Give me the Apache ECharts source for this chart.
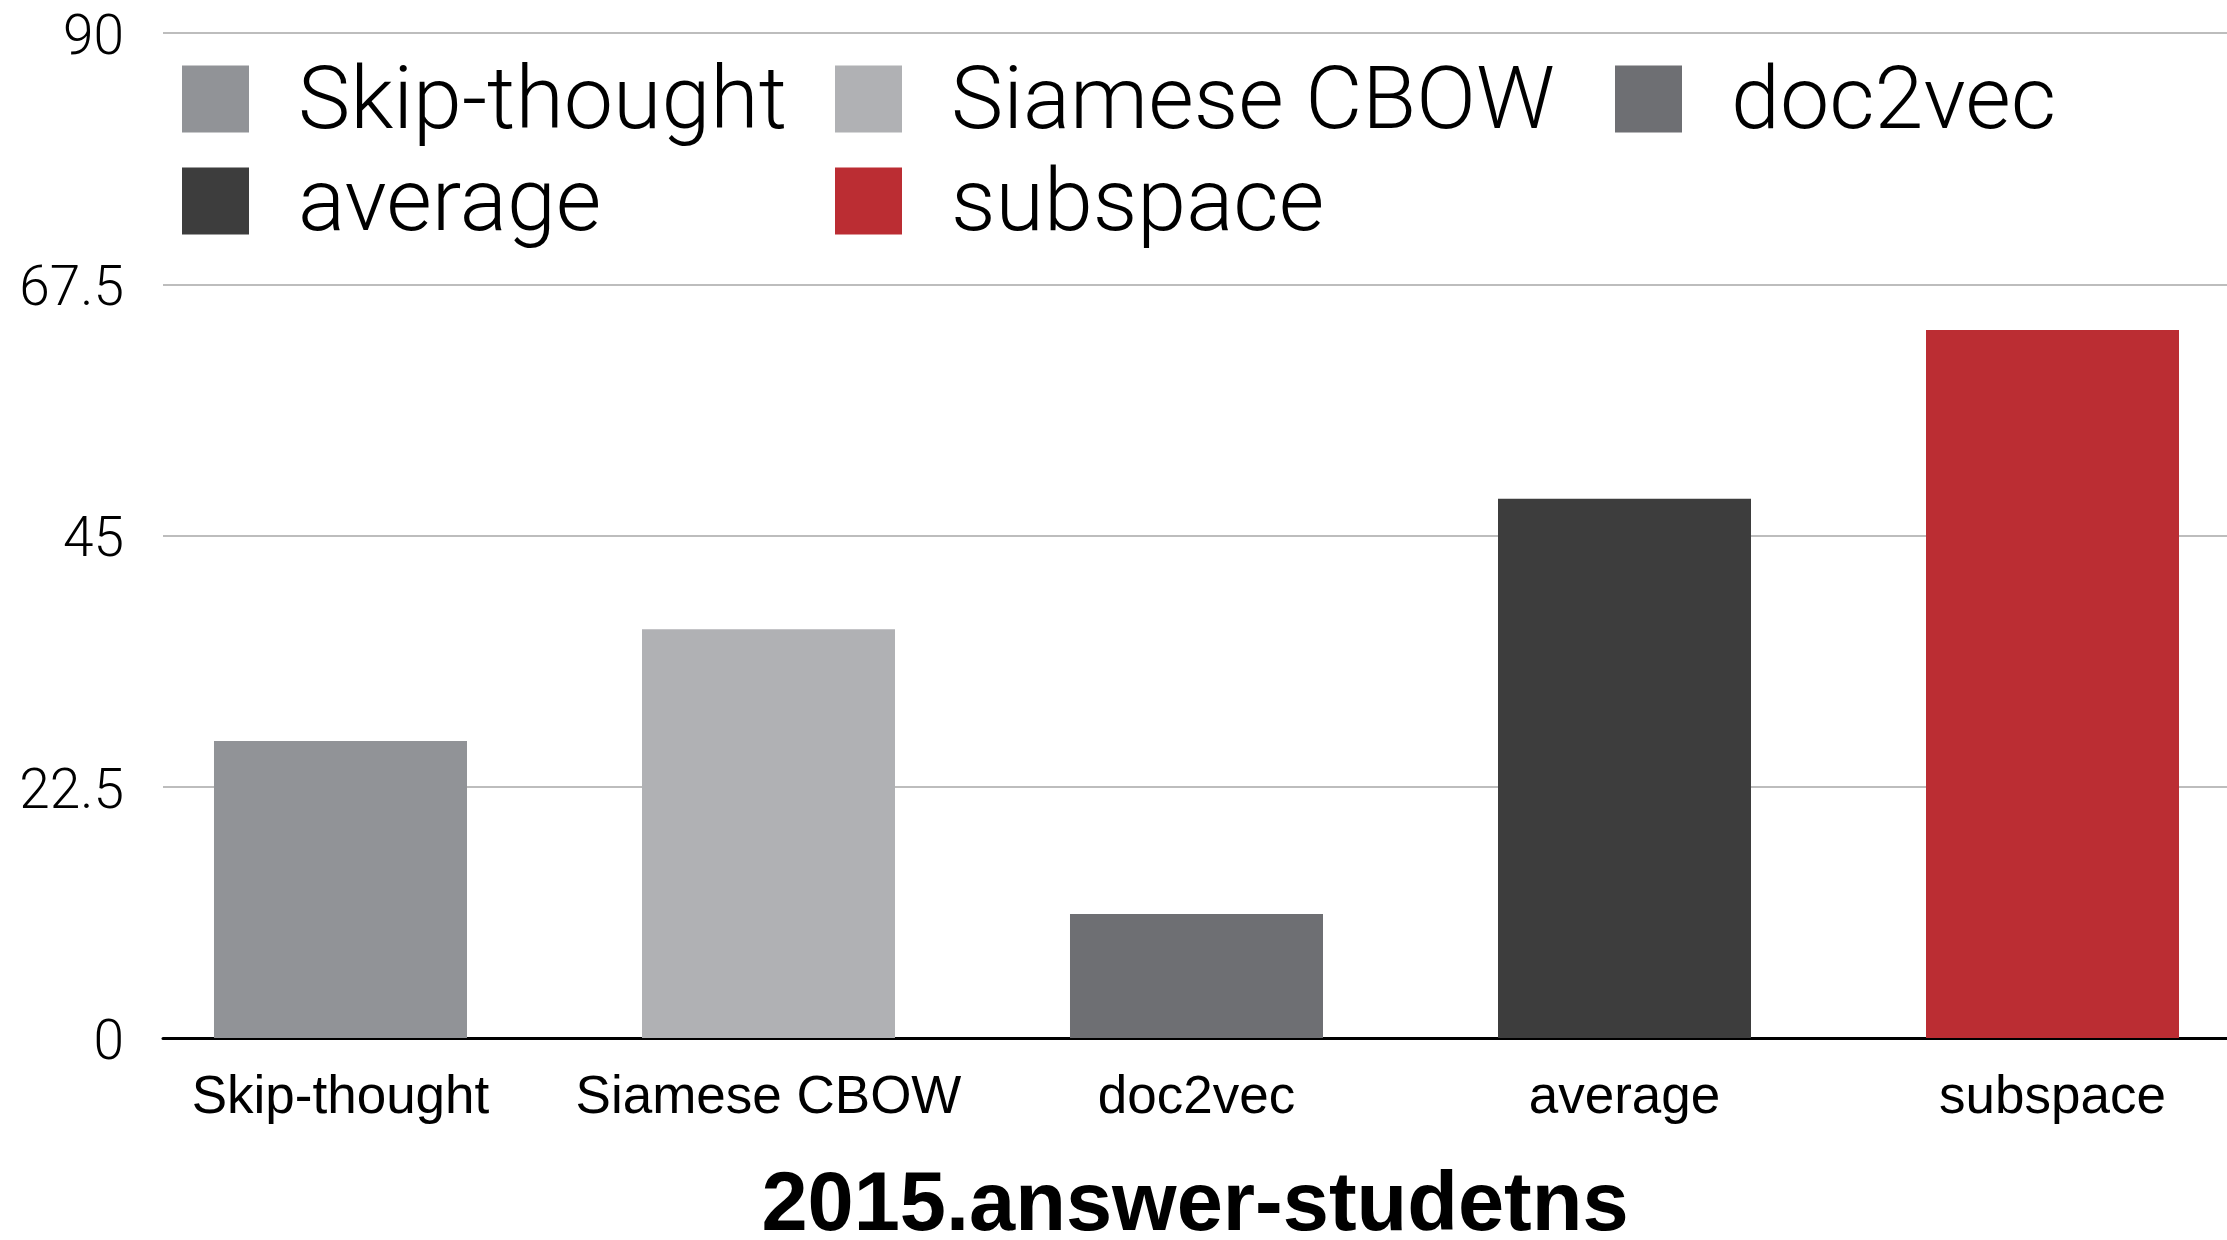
<!DOCTYPE html>
<html>
<head>
<meta charset="utf-8">
<style>
  html, body { margin: 0; padding: 0; background: #fff; }
  #chart { width: 2227px; height: 1240px; }
</style>
<script src="https://cdn.jsdelivr.net/npm/echarts@6/dist/echarts.min.js"></script>
</head>
<body>
<div id="chart"></div>
<script>
// methods, one bar each
const methods = ['Skip-thought', 'Siamese CBOW', 'doc2vec', 'average', 'subspace']
const scores = [26.6, 36.6, 11.1, 48.3, 63.4]
const colors = ['#919397', '#b0b1b4', '#6e6f73', '#3d3d3d', '#bb2d33']
const yTicks = [0, 22.5, 45, 67.5, 90]
const datasetName = '2015.answer-studetns'

const chart = echarts.init(document.getElementById('chart'))

// Roboto sits a bit high, so the label text gets a little top padding
const lightText = (size, top) => ({
  fontFamily: 'Roboto',
  fontWeight: 300,
  fontSize: size,
  color: '#000',
  padding: [top, 0, 0, 0],
})

const legendBase = {
  orient: 'vertical',
  top: 62,
  padding: 0,
  itemWidth: 67,
  itemHeight: 67,
  itemGap: 14,
  icon: 'rect',
  selectedMode: false,
  formatter: (name) => `{t|${name}}`,
  textStyle: {
    padding: [0, 0, 0, 44],
    rich: {t: lightText(88, 14)},
  },
}

chart.setOption({
  animation: false,
  grid: {left: 163, right: 0, top: 33, bottom: 202, outerBoundsMode: 'none'},
  legend: [
    {...legendBase, left: 182, data: ['Skip-thought', 'average']},
    {...legendBase, left: 835, data: ['Siamese CBOW', 'subspace']},
    {...legendBase, left: 1615, data: ['doc2vec']},
  ],
  xAxis: {
    type: 'value',
    min: -0.4147,
    max: 4.4077,
    name: datasetName,
    nameLocation: 'middle',
    nameGap: 128,
    nameTextStyle: {fontFamily: 'Liberation Sans', fontWeight: 'bold', fontSize: 83, color: '#000'},
    axisLine: {show: true, lineStyle: {color: '#000', width: 3}},
    axisTick: {show: false},
    splitLine: {show: false},
    axisLabel: {
      customValues: [0, 1, 2, 3, 4],
      formatter: (v) => methods[Math.round(v)] || '',
      fontFamily: 'Liberation Sans',
      fontSize: 53,
      color: '#000',
      margin: 34,
    },
  },
  yAxis: {
    type: 'value',
    min: 0,
    max: 90,
    interval: 22.5,
    axisLine: {show: false},
    axisTick: {show: false},
    splitLine: {lineStyle: {color: '#bdbdbd', width: 2}},
    axisLabel: {
      customValues: yTicks,
      formatter: (v) => `{t|${v}}`,
      rich: {t: lightText(55, 14)},
      margin: 39,
    },
  },
  series: methods.map((name, i) => ({
    name,
    type: 'bar',
    stack: 'one',
    barWidth: 253,
    itemStyle: {color: colors[i]},
    data: [[i, scores[i]]],
  })),
})
</script>
</body>
</html>
